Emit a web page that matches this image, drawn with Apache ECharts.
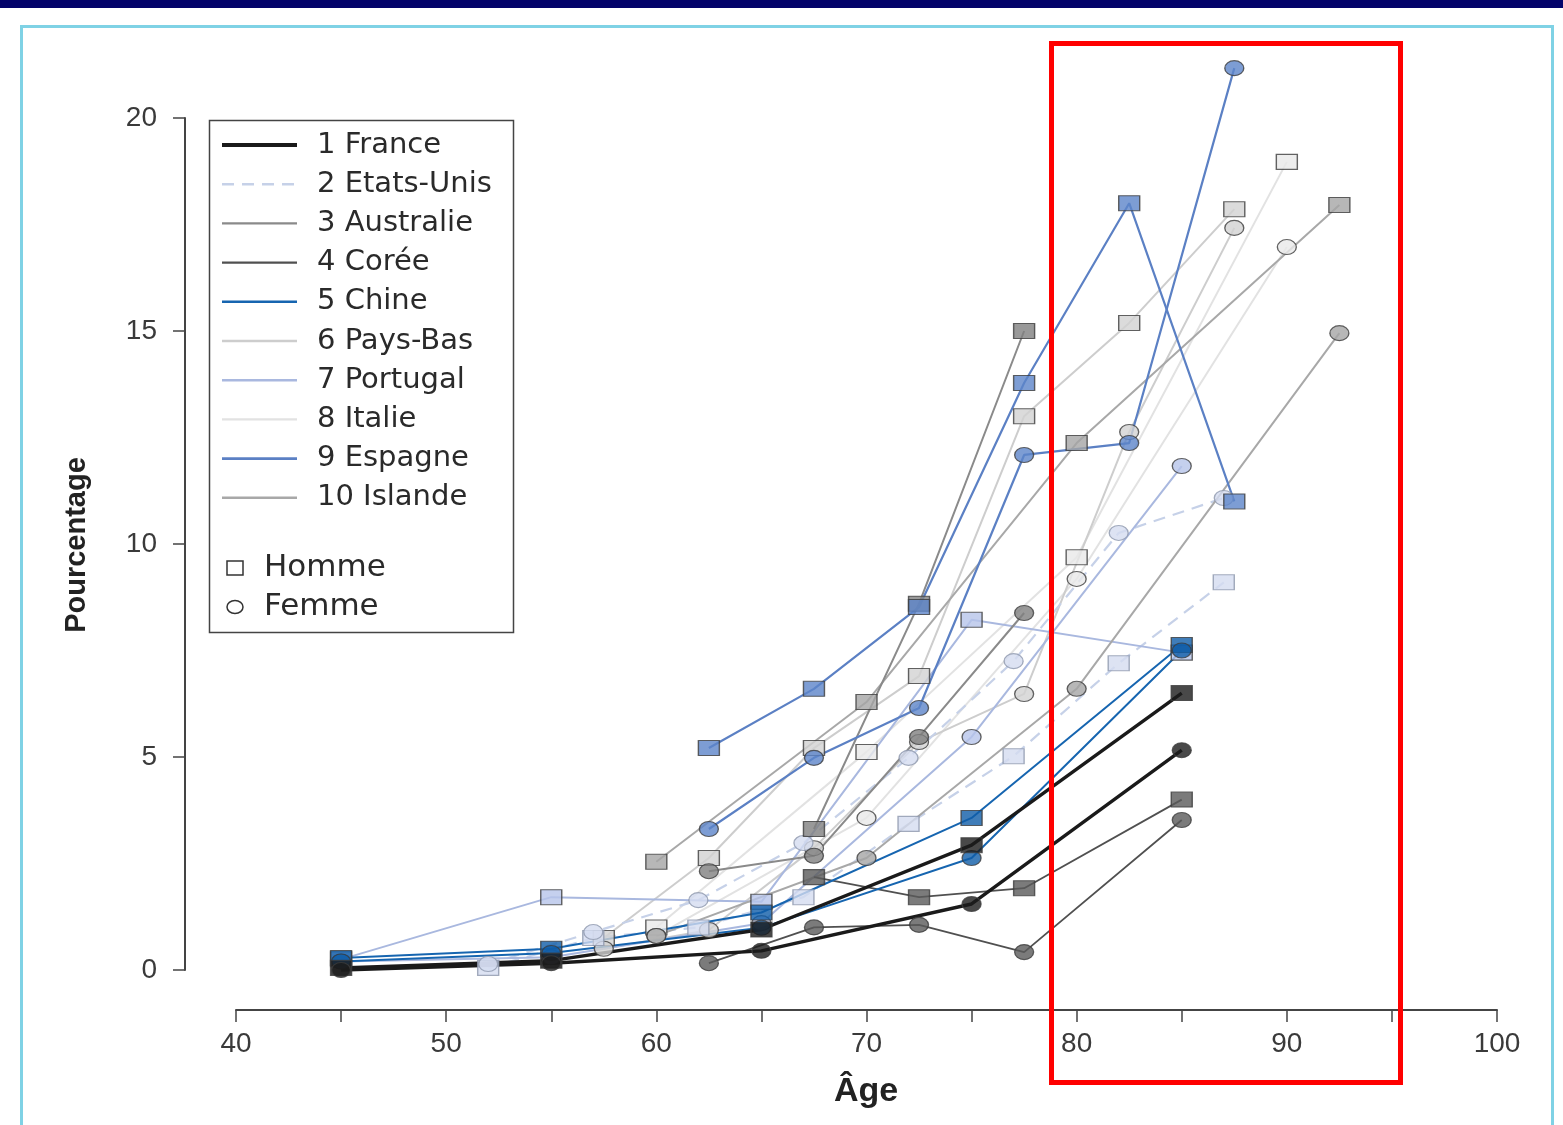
<!DOCTYPE html>
<html><head><meta charset="utf-8">
<script src="https://cdn.jsdelivr.net/npm/echarts@6/dist/echarts.min.js"></script>
<style>html,body{margin:0;padding:0;background:#fff}#c{width:1563px;height:1125px}</style>
</head><body><div id="c"></div>
<script>
// ---- data ----
const countries = ['1 France','2 Etats-Unis','3 Australie','4 Corée','5 Chine','6 Pays-Bas','7 Portugal','8 Italie','9 Espagne','10 Islande'];

const franceAgesM = [45,55,65,75,85];
const franceMen   = [0.05,0.22,0.95,2.93,6.5];
const franceAgesF = [45,55,65,75,85];
const franceWomen = [0.0,0.16,0.45,1.55,5.16];

const usAgesM = [52,57,62,67,72,77,82,87];
const usMen   = [0.05,0.75,1.0,1.71,3.43,5.02,7.2,9.1];
const usAgesF = [52,57,62,67,72,77,82,87];
const usWomen = [0.14,0.89,1.64,2.98,4.98,7.25,10.26,11.08];

const ausAgesM = [67.5,72.5,77.5];
const ausMen   = [3.31,8.6,15.0];
const ausAgesF = [62.5,67.5,72.5,77.5];
const ausWomen = [2.32,2.68,5.47,8.38];

const coreeAgesM = [67.5,72.5,77.5,85];
const coreeMen   = [2.18,1.71,1.92,4.0];
const coreeAgesF = [62.5,67.5,72.5,77.5,85];
const coreeWomen = [0.16,1.0,1.06,0.42,3.52];

const chineAgesM = [45,55,65,75,85];
const chineMen   = [0.28,0.5,1.35,3.57,7.63];
const chineAgesF = [45,55,65,75,85];
const chineWomen = [0.2,0.4,0.99,2.63,7.5];

const pbAgesM = [57.5,62.5,67.5,72.5,77.5,82.5,87.5];
const pbMen   = [0.75,2.63,5.21,6.9,13.0,15.19,17.86];
const pbAgesF = [57.5,62.5,67.5,72.5,77.5,82.5,87.5];
const pbWomen = [0.5,0.94,2.86,5.35,6.48,12.63,17.42];

const portAgesM = [45,55,65,75,85];
const portMen   = [0.25,1.71,1.6,8.22,7.45];
const portAgesF = [45,55,65,75,85];
const portWomen = [0.2,0.3,1.1,5.47,11.83];

const itaAgesM = [60,70,80,90];
const itaMen   = [1.0,5.12,9.69,18.97];
const itaAgesF = [60,70,80,90];
const itaWomen = [0.8,3.57,9.18,16.97];

const espAgesM = [62.5,67.5,72.5,77.5,82.5,87.5];
const espMen   = [5.21,6.6,8.52,13.78,18.0,11.0];
const espAgesF = [62.5,67.5,72.5,77.5,82.5,87.5];
const espWomen = [3.31,4.98,6.15,12.09,12.37,21.17];

const islAgesM = [60,70,80,92.5];
const islMen   = [2.54,6.29,12.37,17.96];
const islAgesF = [60,70,80,92.5];
const islWomen = [0.8,2.63,6.6,14.95];

const xTicks = [40,50,60,70,80,90,100];
const yTicks = [0,5,10,15,20];

// ---- styles ----
const styles = [
  {line:'#1a1a1a', w:3.4, dash:'solid', fill:'#1c1c1c'},
  {line:'#c6d1e8', w:2.2, dash:[12,8],  fill:'#d4dcf0'},
  {line:'#8a8a8a', w:2,   dash:'solid', fill:'#7f7f7f'},
  {line:'#505050', w:1.8, dash:'solid', fill:'#5a5a5a'},
  {line:'#1665b0', w:2,   dash:'solid', fill:'#0f5ca8'},
  {line:'#cdcdcd', w:2,   dash:'solid', fill:'#d2d2d2'},
  {line:'#a9b8df', w:2,   dash:'solid', fill:'#b6c4ea'},
  {line:'#e2e2e2', w:2,   dash:'solid', fill:'#e8e8e8'},
  {line:'#5b80c4', w:2.2, dash:'solid', fill:'#5d84c9'},
  {line:'#a8a8a8', w:2,   dash:'solid', fill:'#a5a5a5'}
];
const sets = [
  [franceAgesM,franceMen,franceAgesF,franceWomen],
  [usAgesM,usMen,usAgesF,usWomen],
  [ausAgesM,ausMen,ausAgesF,ausWomen],
  [coreeAgesM,coreeMen,coreeAgesF,coreeWomen],
  [chineAgesM,chineMen,chineAgesF,chineWomen],
  [pbAgesM,pbMen,pbAgesF,pbWomen],
  [portAgesM,portMen,portAgesF,portWomen],
  [itaAgesM,itaMen,itaAgesF,itaWomen],
  [espAgesM,espMen,espAgesF,espWomen],
  [islAgesM,islMen,islAgesF,islWomen]
];
const zip = (a,b)=>a.map((x,i)=>[x,b[i]]);

const series = [];
const lineOrder = [7,5,1,6,9,2,3,8,4,0];
lineOrder.forEach((ci,k)=>{
  const s = styles[ci], d = sets[ci];
  [[d[0],d[1]],[d[2],d[3]]].forEach(p=>{
    series.push({type:'line', data:zip(p[0],p[1]), showSymbol:false, symbol:'none', clip:false,
      z:2+k*0.01, silent:true,
      lineStyle:{color:s.line, width:s.w, type:s.dash}});
  });
});
lineOrder.forEach((ci,k)=>{
  const s = styles[ci], d = sets[ci];
  const bc = ci===1 ? '#8d97ad' : '#3c3c3c';
  series.push({type:'scatter', data:zip(d[0],d[1]), symbol:'rect', symbolSize:[21,15], clip:false, z:5+k*0.01,
    itemStyle:{color:s.fill, borderColor:bc, borderWidth:1.2}});
  series.push({type:'scatter', data:zip(d[2],d[3]), symbol:'circle', symbolSize:[19,15], clip:false, z:5+k*0.01,
    itemStyle:{color:s.fill, borderColor:bc, borderWidth:1.2}});
});

// ---- legend and frame drawn as graphics ----
const g = [];
g.push({type:'rect', shape:{x:0,y:0,width:1563,height:8}, style:{fill:'#03036a'}, z:100});
g.push({type:'rect', shape:{x:21.5,y:26.5,width:1531,height:1110}, style:{fill:'none', stroke:'#7fd2e5', lineWidth:3}, z:100});
g.push({type:'rect', shape:{x:1051.5,y:43.5,width:349,height:1039}, style:{fill:'none', stroke:'#ff0000', lineWidth:5}, z:100});
g.push({type:'rect', shape:{x:209.5,y:120.5,width:304,height:512}, style:{fill:'#fff', stroke:'#444', lineWidth:1.5}, z:50});
const rowY0 = 145, rowDy = 39.2;
countries.forEach((name,i)=>{
  const y = rowY0 + i*rowDy, s = styles[i];
  g.push({type:'line', shape:{x1:222,y1:y,x2:297,y2:y}, style:{stroke:s.line, lineWidth:s.w+0.4, lineDash: Array.isArray(s.dash)? s.dash : null}, z:51});
  g.push({type:'text', x:317, y:y, style:{text:name, font:'29px "DejaVu Sans"', fill:'#2a2a2a', textVerticalAlign:'middle'}, z:51});
});
g.push({type:'rect', shape:{x:227,y:561,width:16,height:14}, style:{fill:'#fff', stroke:'#333', lineWidth:1.5}, z:51});
g.push({type:'text', x:264, y:568, style:{text:'Homme', font:'31px "DejaVu Sans"', fill:'#2a2a2a', textVerticalAlign:'middle'}, z:51});
g.push({type:'ellipse', shape:{cx:235,cy:607,rx:8,ry:6.5}, style:{fill:'#fff', stroke:'#333', lineWidth:1.5}, z:51});
g.push({type:'text', x:264, y:607, style:{text:'Femme', font:'31px "DejaVu Sans"', fill:'#2a2a2a', textVerticalAlign:'middle'}, z:51});
g.push({type:'text', x:77, y:545, rotation:Math.PI/2, style:{text:'Pourcentage', font:'bold 29px "Liberation Sans"', fill:'#222', textAlign:'center', textVerticalAlign:'middle'}, z:51});
g.push({type:'text', x:866, y:1092, style:{text:'Âge', font:'bold 34px "Liberation Sans"', fill:'#222', textAlign:'center', textVerticalAlign:'middle'}, z:51});

const chart = echarts.init(document.getElementById('c'), null, {renderer:'canvas', width:1563, height:1125});
chart.setOption({
  animation:false,
  backgroundColor:'#fff',
  grid:{left:236, right:66, top:118, bottom:155, containLabel:false},
  xAxis:{type:'value', min:40, max:100, interval:5, offset:40,
    axisLine:{show:true, onZero:false, lineStyle:{color:'#444', width:2}},
    axisTick:{show:true, length:12, lineStyle:{color:'#444', width:1.5}},
    axisLabel:{margin:20, fontSize:28, color:'#3a3a3a', fontFamily:'Liberation Sans',
      formatter:v=> xTicks.indexOf(v)>=0 ? String(v) : ''},
    splitLine:{show:false}},
  yAxis:{type:'value', min:0, max:20, interval:5, offset:51,
    axisLine:{show:true, onZero:false, lineStyle:{color:'#444', width:2}},
    axisTick:{show:true, length:12, lineStyle:{color:'#444', width:1.5}},
    axisLabel:{margin:28, fontSize:28, color:'#3a3a3a', fontFamily:'Liberation Sans',
      formatter:v=> yTicks.indexOf(v)>=0 ? String(v) : ''},
    splitLine:{show:false}},
  series: series,
  graphic: g
});
</script></body></html>
